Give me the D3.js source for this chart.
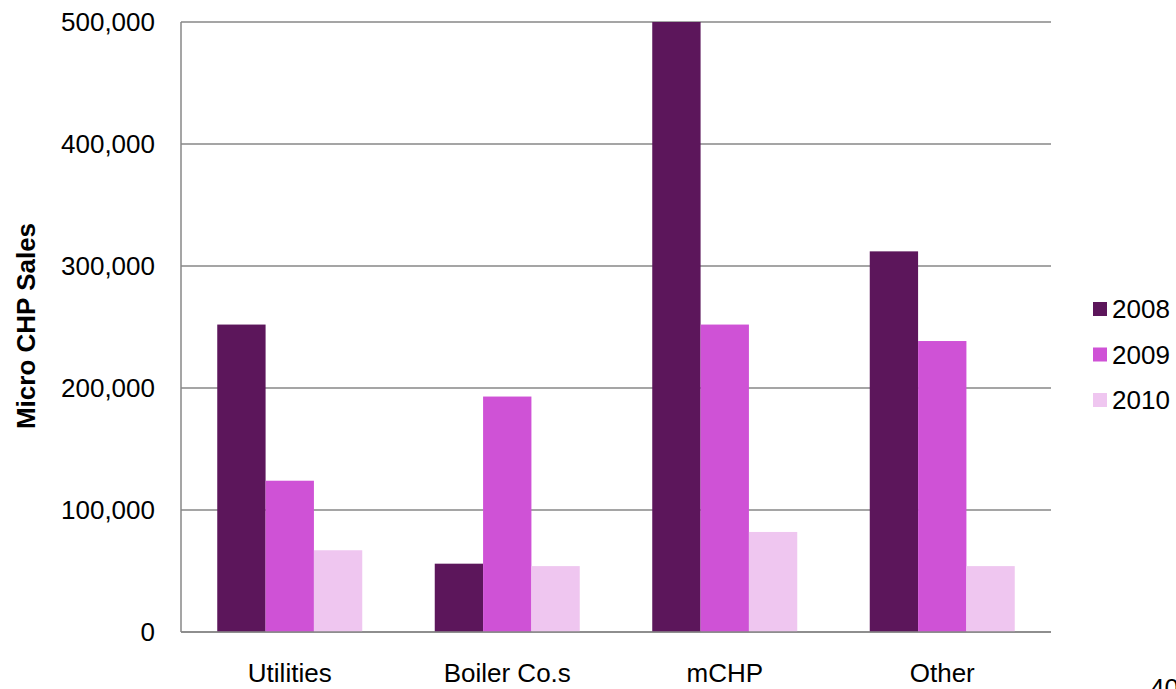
<!DOCTYPE html>
<html>
<head>
<meta charset="utf-8">
<script src="https://cdn.jsdelivr.net/npm/d3@7"></script>
<style>
  body { margin: 0; background: #fff; }
  svg { display: block; font-family: "Liberation Sans", Arial, sans-serif; }
  .grid line { stroke: #878787; stroke-width: 1.5; }
</style>
</head>
<body>
<script>
var categories = ["Utilities", "Boiler Co.s", "mCHP", "Other"];
var years = ["2008", "2009", "2010"];
var sales2008 = [252000, 56000, 500000, 312000];
var sales2009 = [124000, 193000, 252000, 238500];
var sales2010 = [67000, 54000, 82000, 54000];
var yTicks = [0, 100000, 200000, 300000, 400000, 500000];
var colors = ["#5c165b", "#cf52d6", "#efc6f0"];

var width = 1176, height = 689;
var margin = {top: 22, right: 125, bottom: 57, left: 181};
var plotW = width - margin.left - margin.right;
var plotH = height - margin.top - margin.bottom;

var series = [sales2008, sales2009, sales2010];

var svg = d3.select("body").append("svg")
    .attr("width", width)
    .attr("height", height);

var g = svg.append("g")
    .attr("transform", "translate(" + margin.left + "," + margin.top + ")");

var x0 = d3.scaleBand().domain(categories).range([0, plotW])
    .paddingInner(1 / 3).paddingOuter(1 / 6);
var x1 = d3.scaleBand().domain(years).range([0, x0.bandwidth()]);
var y = d3.scaleLinear().domain([0, 500000]).range([plotH, 0]);

// gridlines
g.append("g").attr("class", "grid")
    .selectAll("line").data(yTicks).enter().append("line")
    .attr("x1", 0).attr("x2", plotW)
    .attr("y1", function(d) { return y(d); })
    .attr("y2", function(d) { return y(d); });

// bars
var groups = g.selectAll(".cat").data(categories).enter().append("g")
    .attr("class", "cat")
    .attr("transform", function(d) { return "translate(" + x0(d) + ",0)"; });

groups.selectAll("rect")
    .data(function(d, i) {
        return years.map(function(yr, j) { return {year: yr, value: series[j][i], k: j}; });
    })
    .enter().append("rect")
    .attr("x", function(d) { return x1(d.year); })
    .attr("width", x1.bandwidth())
    .attr("y", function(d) { return y(d.value); })
    .attr("height", function(d) { return plotH - y(d.value); })
    .attr("fill", function(d) { return colors[d.k]; });

// axes lines
g.append("line").attr("x1", 0).attr("x2", 0).attr("y1", 0).attr("y2", plotH)
    .attr("stroke", "#878787").attr("stroke-width", 1.5);
g.append("line").attr("x1", 0).attr("x2", plotW).attr("y1", plotH).attr("y2", plotH)
    .attr("stroke", "#878787").attr("stroke-width", 1.5);

// y tick labels
var fmt = d3.format(",");
g.selectAll(".ylab").data(yTicks).enter().append("text")
    .attr("x", -26)
    .attr("y", function(d) { return y(d); })
    .attr("dy", "0.36em")
    .attr("text-anchor", "end")
    .style("font-size", "26px")
    .text(function(d) { return fmt(d); });

// x labels
g.selectAll(".xlab").data(categories).enter().append("text")
    .attr("x", function(d) { return x0(d) + x0.bandwidth() / 2; })
    .attr("y", plotH + 50)
    .attr("text-anchor", "middle")
    .style("font-size", "26px")
    .text(function(d) { return d; });

// y axis title
svg.append("text")
    .attr("transform", "translate(35,326) rotate(-90)")
    .attr("text-anchor", "middle")
    .style("font-size", "26px")
    .style("font-weight", "bold")
    .text("Micro CHP Sales");

// legend
var legend = svg.append("g").attr("transform", "translate(1093,302)");
var items = legend.selectAll("g").data(years).enter().append("g")
    .attr("transform", function(d, i) { return "translate(0," + (i * 45.5) + ")"; });
items.append("rect").attr("width", 14).attr("height", 14)
    .attr("fill", function(d, i) { return colors[i]; });
items.append("text").attr("x", 19).attr("y", 16)
    .style("font-size", "26px")
    .text(function(d) { return d; });

// page number fragment (cut off at the edge, as in the source)
svg.append("text").attr("x", 1150).attr("y", 697)
    .style("font-size", "26px").text("40");
</script>
</body>
</html>
